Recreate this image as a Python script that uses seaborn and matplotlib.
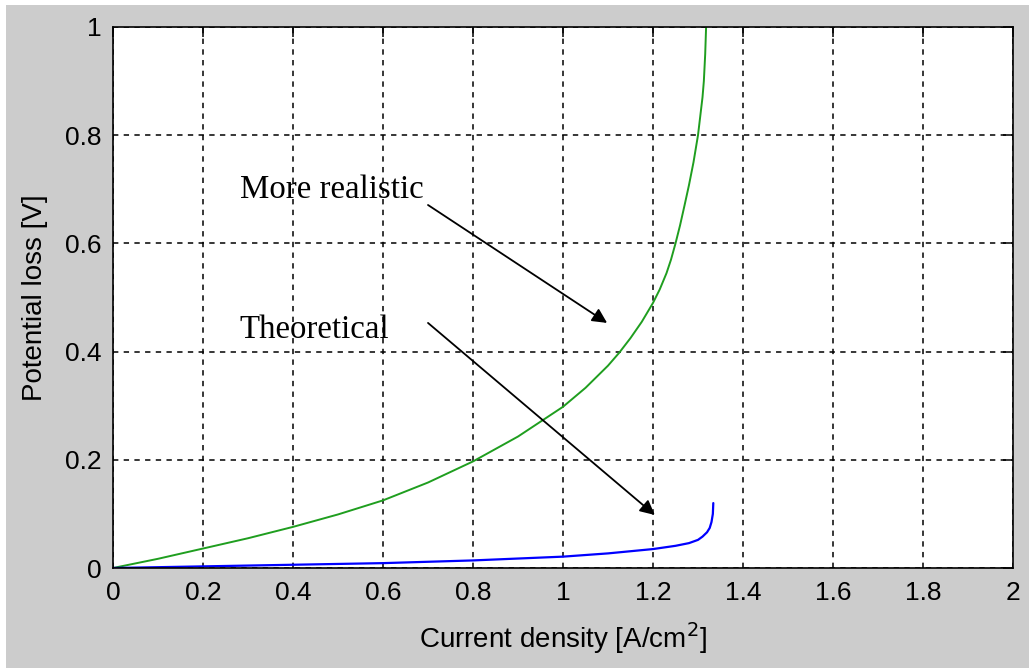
import matplotlib
matplotlib.use("Agg")
import matplotlib.pyplot as plt
from matplotlib.patches import Rectangle
import seaborn as sns
import pandas as pd

# Data
realistic_x = [0, 0.1, 0.2, 0.3, 0.4, 0.5, 0.6, 0.7, 0.8, 0.9, 1.0, 1.05, 1.1,
               1.125, 1.15, 1.175, 1.2, 1.215, 1.23, 1.24, 1.25, 1.26, 1.27,
               1.28, 1.29, 1.295, 1.30, 1.305, 1.31, 1.313, 1.316, 1.318]
realistic_y = [0, 0.017, 0.036, 0.055, 0.076, 0.099, 0.125, 0.158, 0.197, 0.243,
               0.298, 0.333, 0.374, 0.398, 0.425, 0.455, 0.49, 0.515, 0.545,
               0.57, 0.60, 0.633, 0.67, 0.708, 0.75, 0.775, 0.80, 0.835, 0.87,
               0.90, 0.95, 1.0]
theoretical_x = [0, 0.2, 0.4, 0.6, 0.8, 1.0, 1.1, 1.2, 1.25, 1.28, 1.30, 1.31,
                 1.32, 1.326, 1.33, 1.333, 1.334]
theoretical_y = [0, 0.003, 0.006, 0.009, 0.014, 0.021, 0.027, 0.035, 0.041,
                 0.046, 0.052, 0.058, 0.066, 0.074, 0.085, 0.10, 0.12]
x_ticks = [0, 0.2, 0.4, 0.6, 0.8, 1, 1.2, 1.4, 1.6, 1.8, 2]
x_tick_labels = ["0", "0.2", "0.4", "0.6", "0.8", "1", "1.2", "1.4", "1.6", "1.8", "2"]
y_ticks = [0, 0.2, 0.4, 0.6, 0.8, 1]
y_tick_labels = ["0", "0.2", "0.4", "0.6", "0.8", "1"]

df_real = pd.DataFrame({"x": realistic_x, "y": realistic_y})
df_theo = pd.DataFrame({"x": theoretical_x, "y": theoretical_y})

sns.set_style("white")
plt.rcParams["font.family"] = ["Liberation Sans", "DejaVu Sans"]
plt.rcParams["text.color"] = "black"
plt.rcParams["axes.labelcolor"] = "black"

fig = plt.figure(figsize=(10.29, 6.68), dpi=100, facecolor="white")
fig.patches.append(Rectangle((6 / 1029, 0), 1 - 6 / 1029, 1 - 5 / 668,
                             transform=fig.transFigure, facecolor="#cccccc",
                             edgecolor="none", zorder=-10))
ax = fig.add_axes([113 / 1029, 100 / 668, 900 / 1029, 541 / 668])
ax.set_facecolor("white")

sns.lineplot(data=df_real, x="x", y="y", ax=ax, color="#1f9e1f", lw=1.4,
             sort=False, estimator=None)
sns.lineplot(data=df_theo, x="x", y="y", ax=ax, color="#0000ff", lw=1.6,
             sort=False, estimator=None)

ax.set_xlim(0, 2)
ax.set_ylim(0, 1)
ax.set_xticks(x_ticks)
ax.set_xticklabels(x_tick_labels)
ax.set_yticks(y_ticks)
ax.set_yticklabels(y_tick_labels)
ax.grid(True, color="black", linestyle=(0, (3.5, 3.5)), linewidth=1.1)
ax.tick_params(direction="in", length=7, width=1.1, top=True, right=True,
               labelsize=19, colors="black")
ax.tick_params(axis="x", pad=9)
ax.tick_params(axis="y", pad=8)
for s in ax.spines.values():
    s.set_color("black")
    s.set_linewidth(1.2)

ax.set_xlabel("Current density [A/cm$^2$]", fontsize=20, va="center")
ax.set_ylabel("Potential loss [V]", fontsize=20, va="center")
ax.xaxis.set_label_coords(0.5, (568 - 638) / 541)
ax.yaxis.set_label_coords((35 - 113) / 900, 0.5)

serif = ["Liberation Serif", "DejaVu Serif"]
ax.text(0.282, 0.70, "More realistic", fontsize=23.7, family=serif,
        va="center", ha="left", color="black")
ax.text(0.282, 0.44, "Theoretical", fontsize=23.7, family=serif,
        va="center", ha="left", color="black")
ax.annotate("", xy=(1.098, 0.453), xytext=(0.70, 0.671),
            arrowprops=dict(arrowstyle="-|>", mutation_scale=22, color="black",
                            lw=1.3, shrinkA=0, shrinkB=0))
ax.annotate("", xy=(1.204, 0.098), xytext=(0.70, 0.453),
            arrowprops=dict(arrowstyle="-|>", mutation_scale=22, color="black",
                            lw=1.3, shrinkA=0, shrinkB=0))

fig.savefig("out.png", dpi=100, facecolor=fig.get_facecolor())
